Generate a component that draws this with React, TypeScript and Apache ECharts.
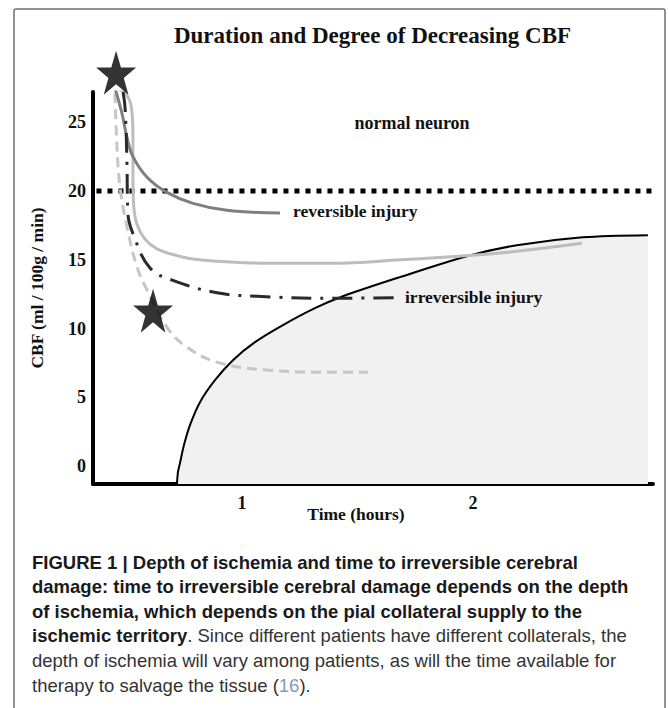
import React, { useEffect, useRef } from "react";
import * as echarts from "echarts";

// ---- data (time in hours, CBF in ml/100g/min) ----
const yTicks = [0, 5, 10, 15, 20, 25];
const xTicks = [1, 2];

const coreTime = [0.7186, 0.7229, 0.7316, 0.7489, 0.7749, 0.8182, 0.8831, 0.961, 1.0563, 1.1775, 1.316, 1.437, 1.684, 1.974, 2.19, 2.476, 2.758];
const coreCbf = [-1.3, -0.44, 0.22, 1.53, 2.98, 4.65, 6.25, 7.7, 9.01, 10.25, 11.48, 12.35, 13.74, 15.26, 16.06, 16.64, 16.79];

const thresholdTime = [0.37, 2.78];
const thresholdCbf = [20, 20];

const reversibleTime = [0.45, 0.481, 0.502, 0.528, 0.589, 0.675, 0.788, 0.935, 1.165];
const reversibleCbf = [27.5, 25.6, 23.9, 22.5, 21.0, 19.9, 19.1, 18.6, 18.4];

const collateralTime = [0.459, 0.5, 0.522, 0.528, 0.528, 0.531, 0.545, 0.58, 0.632, 0.72, 0.818, 1.108, 1.381, 1.684, 2.117, 2.472];
const collateralCbf = [27.5, 27.0, 26.0, 24.0, 21.0, 19.0, 17.6, 16.5, 15.8, 15.3, 15.0, 14.75, 14.75, 15.0, 15.5, 16.2];

const irreversibleTime = [0.485, 0.494, 0.502, 0.506, 0.528, 0.602, 0.701, 0.892, 1.065, 1.381, 1.671];
const irreversibleCbf = [27.2, 26.0, 22.0, 18.4, 16.9, 14.4, 13.5, 12.6, 12.35, 12.2, 12.25];

const poorTime = [0.45, 0.459, 0.472, 0.502, 0.545, 0.589, 0.675, 0.762, 0.892, 1.108, 1.381, 1.545];
const poorCbf = [27.1, 23.2, 20.3, 17.4, 14.5, 12.8, 10.1, 8.65, 7.56, 6.98, 6.83, 6.83];

const starTime = [0.455, 0.615];
const starCbf = [28.6, 11.3];

const titleText = "Duration and Degree of Decreasing CBF";
const yName = "CBF (ml / 100g / min)";
const xName = "Time (hours)";
const labelNormal = "normal neuron";
const labelReversible = "reversible injury";
const labelIrreversible = "irreversible injury";

const captionLines = [
  "{b|FIGURE 1 | Depth of ischemia and time to irreversible cerebral}",
  "{b|damage: time to irreversible cerebral damage depends on the depth}",
  "{b|of ischemia, which depends on the pial collateral supply to the}",
  "{b|ischemic territory}{r|. Since different patients have different collaterals, the}",
  "{r|depth of ischemia will vary among patients, as will the time available for}",
  "{r|therapy to salvage the tissue (}{c|16}{r|).}",
];

const zip = (a: number[], b: number[]) => a.map((v, i) => [v, b[i]]);

const STAR = "path://M50,0 L61.8,35.1 L98.9,35.1 L68.8,56.7 L80.2,91.9 L50,70 L19.8,91.9 L31.2,56.7 L1.1,35.1 L38.2,35.1 Z";
const SERIF = "'Liberation Serif', 'Times New Roman', serif";
const SANS = "'Liberation Sans', Arial, sans-serif";

export default function App() {
  const ref = useRef<HTMLDivElement>(null);
  useEffect(() => {
    if (!ref.current) return;
    const chart = echarts.init(ref.current, undefined, { renderer: "svg" });
    const capFont = 18.5;
    const rich = {
      b: { fontFamily: SANS, fontWeight: "bold", fontSize: capFont, fill: "#1a1a1a", color: "#1a1a1a" },
      r: { fontFamily: SANS, fontWeight: "normal", fontSize: capFont, fill: "#333", color: "#333" },
      c: { fontFamily: SANS, fontWeight: "normal", fontSize: capFont, fill: "#7d9cc4", color: "#7d9cc4" },
    };
    const captionY0 = 562;
    const captionStep = 24.6;
    const labelStyle = (text: string, x: number, y: number, align: string, size = 17.5) => ({
      type: "text",
      x,
      y,
      z: 100,
      style: { text, font: `bold ${size}px ${SERIF}`, fill: "#111", textAlign: align, textVerticalAlign: "middle" },
    });
    chart.setOption({
      animation: false,
      backgroundColor: "#fff",
      grid: { left: 93, right: 15, top: 92, bottom: 224, containLabel: false },
      xAxis: {
        type: "value",
        min: 0.355,
        max: 2.78,
        axisLine: { show: true, onZero: false, lineStyle: { color: "#000", width: 4 } },
        axisTick: { show: false },
        splitLine: { show: false },
        axisLabel: {
          customValues: xTicks,
          margin: 10,
          fontFamily: SERIF,
          fontWeight: "bold",
          fontSize: 18,
          color: "#111",
        },
      },
      yAxis: {
        type: "value",
        min: -1.3,
        max: 27.2,
        axisLine: { show: true, onZero: false, lineStyle: { color: "#000", width: 4 } },
        axisTick: { show: false },
        splitLine: { show: false },
        axisLabel: {
          customValues: yTicks,
          margin: 7,
          fontFamily: SERIF,
          fontWeight: "bold",
          fontSize: 18,
          color: "#111",
        },
      },
      series: [
        {
          type: "line",
          data: zip(coreTime, coreCbf),
          smooth: 0.3,
          showSymbol: false,
          lineStyle: { color: "#000", width: 2 },
          areaStyle: { color: "#f1f1f1", origin: "start", opacity: 1 },
          z: 1,
        },
        {
          type: "line",
          data: zip(thresholdTime, thresholdCbf),
          showSymbol: false,
          lineStyle: { color: "#000", width: 5, type: [5, 6] },
          z: 2,
        },
        {
          type: "line",
          data: zip(collateralTime, collateralCbf),
          smooth: 0.4,
          showSymbol: false,
          lineStyle: { color: "#bdbdbd", width: 3 },
          z: 2,
        },
        {
          type: "line",
          data: zip(poorTime, poorCbf),
          smooth: 0.4,
          showSymbol: false,
          lineStyle: { color: "#c6c6c6", width: 3, type: [10, 6] },
          z: 2,
        },
        {
          type: "line",
          data: zip(reversibleTime, reversibleCbf),
          smooth: 0.4,
          showSymbol: false,
          lineStyle: { color: "#7f7f7f", width: 3 },
          z: 3,
        },
        {
          type: "line",
          data: zip(irreversibleTime, irreversibleCbf),
          smooth: 0.4,
          showSymbol: false,
          lineStyle: { color: "#2a2a2a", width: 3, type: [20, 9, 3, 9] },
          z: 3,
        },
        {
          type: "scatter",
          data: zip(starTime, starCbf),
          symbol: STAR,
          symbolSize: [40, 44],
          symbolKeepAspect: false,
          itemStyle: { color: "#000" },
          clip: false,
          z: 10,
        },
      ],
      graphic: [
        {
          type: "rect",
          z: 100,
          shape: { x: 14, y: 9, width: 651, height: 740, r: 2 },
          style: { fill: "none", stroke: "#6f6f6f", lineWidth: 1.5 },
        },
        labelStyle(titleText, 372.5, 35, "center", 23),
        {
          type: "text",
          x: 37,
          y: 288,
          z: 100,
          rotation: Math.PI / 2,
          style: { text: yName, font: `bold 17.5px ${SERIF}`, fill: "#111", textAlign: "center", textVerticalAlign: "middle" },
        },
        labelStyle(xName, 356, 514, "center"),
        labelStyle(labelNormal, 412, 123, "center", 18),
        labelStyle(labelReversible, 293, 211, "left"),
        labelStyle(labelIrreversible, 405, 297, "left"),
        ...captionLines.map((t, i) => ({
          type: "text",
          x: 32,
          y: captionY0 + i * captionStep,
          z: 100,
          style: { text: t, rich, textAlign: "left", textVerticalAlign: "middle", font: `${capFont}px ${SANS}` },
        })),
      ],
    });
    return () => chart.dispose();
  }, []);
  return (
    <div
      ref={ref}
      style={{ position: "fixed", left: 0, top: 0, width: 668, height: 708, background: "#fff" }}
    />
  );
}
